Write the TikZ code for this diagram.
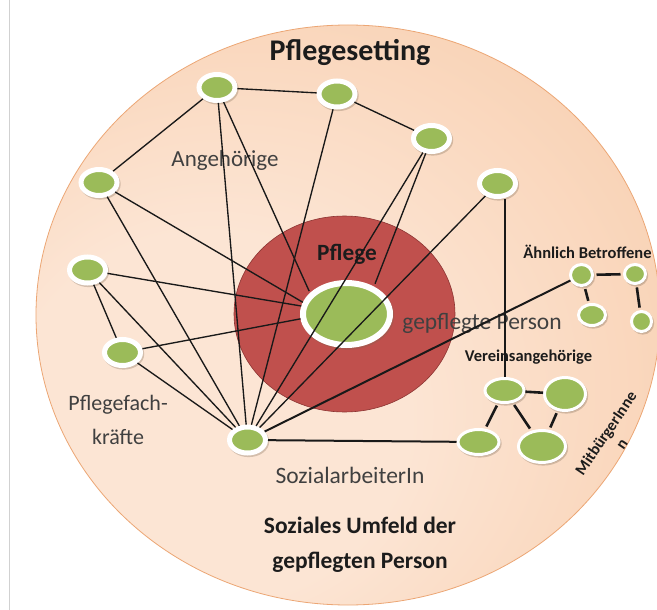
\documentclass[tikz,border=0pt]{standalone}
\usepackage{fontspec}
\setmainfont{Carlito}
\usetikzlibrary{shapes.geometric}
\definecolor{pk1}{RGB}{252,229,212}
\definecolor{pk2}{RGB}{248,206,174}
\definecolor{pk3}{RGB}{243,183,138}
\definecolor{rim}{RGB}{236,166,116}
\definecolor{red1}{RGB}{192,80,77}
\definecolor{red2}{RGB}{140,52,50}
\definecolor{grn}{RGB}{155,187,89}
\definecolor{txtd}{RGB}{28,28,28}
\definecolor{txtg}{RGB}{64,64,64}
\definecolor{shd}{RGB}{120,100,80}
\pgfdeclareradialshading{peach}{\pgfpoint{-15bp}{-12bp}}{color(0bp)=(pk1); color(16bp)=(pk1); color(40bp)=(pk2); color(50bp)=(pk3); color(62bp)=(pk3)}
\begin{document}
\begin{tikzpicture}[x=1pt,y=-1pt,
  ln/.style={draw=black!90, line width=1.35pt},
  thk/.style={draw=black!90, line width=2pt},
  cl/.style={draw=black!90, line width=2.6pt, shorten <=2.5pt, shorten >=2.5pt},
  shad/.style={preaction={draw=shd, fill=shd, opacity=0.3, transform canvas={xshift=1.2pt,yshift=-1.6pt}}},
  gnode/.style={ellipse, fill=grn, draw=white, line width=5pt, minimum width=36pt, minimum height=26pt, inner sep=0pt, shad},
  cnode/.style={ellipse, fill=grn, draw=white, line width=3pt, inner sep=0pt, shad},
  lbl/.style={inner sep=0pt, text=txtg, align=center},
  blbl/.style={inner sep=0pt, text=txtd, align=center},
]
\fill[white] (0,0) rectangle (657,610);
\clip (0,0) rectangle (657,610);
\draw[black!18, line width=0.8pt] (9.5,0) -- (9.5,610);
% outer disc
\shade[shading=peach, draw=rim, line width=0.8pt] (348,315) ellipse [x radius=312pt, y radius=290pt];
% red disc
\draw[fill=red1, draw=red2, line width=0.6pt] (344.5,314) ellipse [x radius=110.5pt, y radius=98pt];

% labels
\node[blbl, font=\fontsize{30}{36}\selectfont\bfseries] (tTitle) at (350,52) {Pflegesetting};
\node[lbl, font=\fontsize{23}{28}\selectfont] (tAng) at (225,160) {Angehörige};
\node[lbl, font=\fontsize{22}{34}\selectfont] (tPfk) at (118,420) {Pflegefach-\\kräfte};
\node[lbl, font=\fontsize{23.5}{28}\selectfont] (tSoz) at (350,475) {SozialarbeiterIn};
\node[blbl, font=\fontsize{23.5}{35}\selectfont\bfseries] (tUmf) at (360,545) {Soziales Umfeld der\\gepflegten Person};
\node[blbl, font=\fontsize{23.3}{28}\selectfont\bfseries] (tPfl) at (347,254) {Pflege};
\node[lbl, font=\fontsize{23.5}{28}\selectfont] (tGep) at (482,323) {gepflegte Person};
\node[blbl, font=\fontsize{16.5}{20}\selectfont\bfseries] (tAeh) at (587.5,252) {Ähnlich Betroffene};
\node[blbl, font=\fontsize{16.5}{20}\selectfont\bfseries] (tVer) at (528.5,357) {Vereinsangehörige};
\node[blbl, font=\fontsize{16}{19}\selectfont\bfseries, rotate=56] (tMit) at (613.5,438.5) {MitbürgerInne\\n};

% central node
\node[ellipse, fill=grn, draw=white, line width=6pt, minimum width=87pt, minimum height=62pt, inner sep=0pt, shad] (C) at (346.5,314) {};
% small nodes
\node[gnode] (A1) at (217,87.5) {};
\node[gnode] (A2) at (337,94) {};
\node[gnode] (A3) at (431.5,138.5) {};
\node[gnode] (A4) at (497.5,183.5) {};
\node[gnode] (A5) at (99,182.5) {};
\node[gnode] (P1) at (87.5,270) {};
\node[gnode] (P2) at (122.5,352.5) {};
\node[gnode] (S) at (247.5,440) {};
% right clusters
\node[cnode, minimum width=22pt, minimum height=21pt] (B1) at (581.5,275) {};
\node[cnode, minimum width=21pt, minimum height=19pt] (B2) at (635,274) {};
\node[cnode, minimum width=27pt, minimum height=21pt] (B3) at (592,315) {};
\node[cnode, minimum width=20pt, minimum height=20pt] (B4) at (641.5,321.5) {};
\node[cnode, minimum width=39pt, minimum height=24pt] (V1) at (504.5,390.5) {};
\node[cnode, minimum width=41pt, minimum height=33pt] (V2) at (565,394) {};
\node[cnode, minimum width=41pt, minimum height=25pt] (V3) at (478.5,442) {};
\node[cnode, minimum width=47pt, minimum height=32pt] (V4) at (542,446.5) {};

% connectors
\draw[ln] (A1) -- (A2);
\draw[ln] (A1) -- (A5);
\draw[ln] (A2) -- (A3);
\draw[ln] (A1) -- (S);
\draw[ln, shorten >=2pt] (A1) -- (C.150);
\draw[ln] (A2) -- (S);
\draw[ln] (A3) -- (S);
\draw[ln, shorten >=3pt] (A3) -- (C.45);
\draw[ln] (A4) -- (S);
\draw[ln] (A5) -- (C.165);
\draw[ln] (A5) -- (S);
\draw[ln] (P1) -- (C.170);
\draw[ln] (P1) -- (P2);
\draw[ln] (P1) -- (S);
\draw[ln] (P2) -- (C.186);
\draw[ln] (P2) -- (S);
\draw[thk] (S) -- (B1);
\draw[thk] (S) -- (V3);
\draw[thk] (A4.south -| V1.north) -- (V1.north);
\draw[cl] (B1) -- (B2);
\draw[cl] (B1) -- (B3);
\draw[cl] (B2) -- (B4);
\draw[cl, shorten <=0pt, shorten >=0pt] (V1) -- (V2);
\draw[cl] (V1) -- (V3);
\draw[cl] (V1) -- (V4);
\draw[cl] (V2) -- (V4);
\end{tikzpicture}
\end{document}
